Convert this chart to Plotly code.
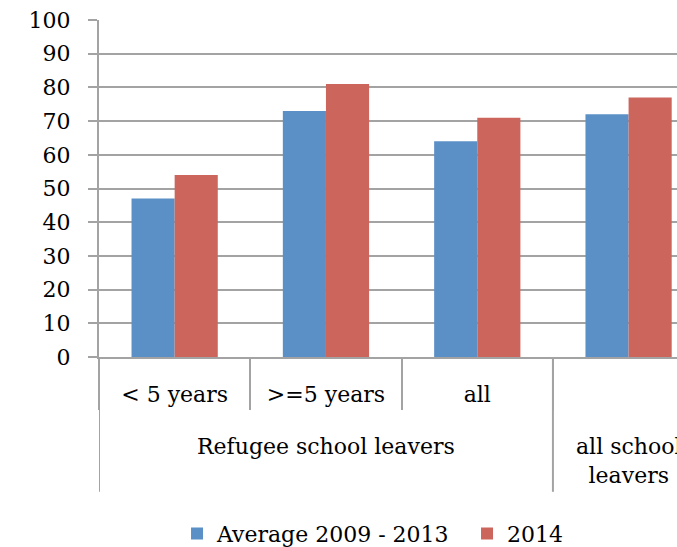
import plotly.graph_objects as go

inner_labels = ["< 5 years", ">=5 years", "all", " "]
group_labels = ["Refugee school leavers", "all school<br>leavers"]
group_sizes = [3, 1]
avg_2009_2013 = [47, 73, 64, 72]
val_2014 = [54, 81, 71, 77]
y_ticks = list(range(0, 101, 10))

BLUE = "#5B90C6"
RED = "#CC665C"
GRAY = "#A3A3A3"
FONT = "DejaVu Serif"

fig = go.Figure()
fig.add_trace(go.Bar(x=inner_labels, y=avg_2009_2013,
                     name="Average 2009 - 2013", marker=dict(color=BLUE, line=dict(width=0))))
fig.add_trace(go.Bar(x=inner_labels, y=val_2014,
                     name="2014", marker=dict(color=RED, line=dict(width=0))))

# group (second-level) labels and long dividers between groups
DIV_BOTTOM = -0.40   # paper units below the plot area
start = 0
for label, size in zip(group_labels, group_sizes):
    centre = start + (size - 1) / 2
    fig.add_annotation(x=centre, xref="x", y=-0.222, yref="paper", yanchor="top",
                       text=label, showarrow=False, align="center",
                       font=dict(family=FONT, size=22, color="black"))
    fig.add_shape(type="line", xref="x", yref="paper", x0=start - 0.5, x1=start - 0.5,
                  y0=0, y1=DIV_BOTTOM, line=dict(color=GRAY, width=2), layer="above")
    start += size

fig.update_layout(
    width=677, height=547,
    margin=dict(l=99, r=0, t=20, b=190, autoexpand=False),
    barmode="group", bargap=0.43, bargroupgap=0,
    plot_bgcolor="white", paper_bgcolor="white",
    font=dict(family=FONT, size=22, color="black"),
    legend=dict(orientation="h", x=0.135, xanchor="left", y=-0.462, yanchor="top",
                font=dict(family=FONT, size=22, color="black"), itemwidth=30,
                entrywidth=245, bgcolor="rgba(0,0,0,0)"),
)
fig.update_yaxes(range=[0, 100], tickvals=y_ticks, showgrid=True, gridcolor=GRAY, gridwidth=2,
                 showline=True, linecolor=GRAY, linewidth=2, ticks="outside", ticklen=9,
                 tickwidth=2, tickcolor=GRAY, zeroline=False, ticklabelstandoff=13)
fig.update_xaxes(type="category", range=[-0.5, 3.32], showline=True, linecolor=GRAY,
                 linewidth=2, ticks="outside", tickson="boundaries", ticklen=51, tickwidth=2,
                 tickcolor=GRAY, ticklabelstandoff=17, showgrid=False)

fig.write_html("out.html")
